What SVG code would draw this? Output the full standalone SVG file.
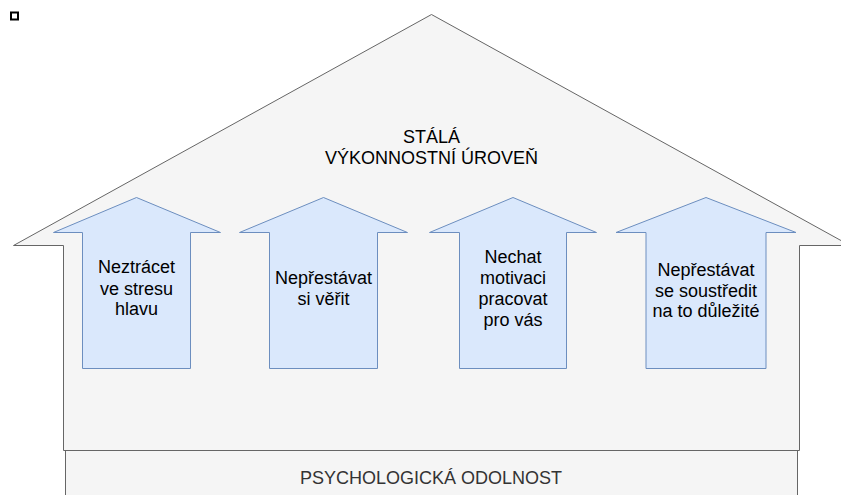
<svg xmlns="http://www.w3.org/2000/svg" width="841" height="495" viewBox="0 0 841 495">
<style>
.house{fill:#f5f5f5;stroke:#666666;stroke-width:1}
.arrow{fill:#dae8fc;stroke:#6c8ebf;stroke-width:1}
.t{font-family:"Liberation Sans",Arial,sans-serif;font-size:18px;text-anchor:middle;fill:#000}
.g{fill:#333333}
</style>
<rect width="841" height="495" fill="#ffffff"/>
<rect x="11" y="12.5" width="7" height="7" fill="#ffffff" stroke="#000" stroke-width="2"/>
<g id="house">
<polygon class="house" points="13.5,245.5 431.5,14.5 850,245.5 799.5,245.5 799.5,450.5 63.5,450.5 63.5,245.5"/>
<text class="t" x="431.5" y="143">STÁLÁ</text>
<text class="t" x="431.5" y="164">VÝKONNOSTNÍ ÚROVEŇ</text>
</g>
<g id="base">
<rect class="house" x="65.5" y="450.5" width="732" height="60"/>
<text class="t g" x="431" y="484">PSYCHOLOGICKÁ ODOLNOST</text>
</g>
<g id="arrow1">
<polygon class="arrow" points="136.5,197.5 220.5,232.5 190.5,232.5 190.5,368.5 82.5,368.5 82.5,232.5 53.5,232.5"/>
<text class="t" x="136.5" y="273">Neztrácet</text>
<text class="t" x="136.5" y="294.5">ve stresu</text>
<text class="t" x="136.5" y="315">hlavu</text>
</g>
<g id="arrow2">
<polygon class="arrow" points="323.5,197.5 407.5,232.5 377.5,232.5 377.5,368.5 269.5,368.5 269.5,232.5 239.5,232.5"/>
<text class="t" x="323.5" y="284">Nepřestávat</text>
<text class="t" x="323.5" y="305">si věřit</text>
</g>
<g id="arrow3">
<polygon class="arrow" points="513,197.5 596.5,232.5 566.5,232.5 566.5,368.5 459.5,368.5 459.5,232.5 429.5,232.5"/>
<text class="t" x="513" y="262.5">Nechat</text>
<text class="t" x="513" y="284">motivaci</text>
<text class="t" x="513" y="305">pracovat</text>
<text class="t" x="513" y="326">pro vás</text>
</g>
<g id="arrow4">
<polygon class="arrow" points="706,197.5 796,232.5 766,232.5 766,368.5 646,368.5 646,232.5 616,232.5"/>
<text class="t" x="706" y="276">Nepřestávat</text>
<text class="t" x="706" y="296.5">se soustředit</text>
<text class="t" x="706" y="317">na to důležité</text>
</g>
<g id="connectors"/>
</svg>
